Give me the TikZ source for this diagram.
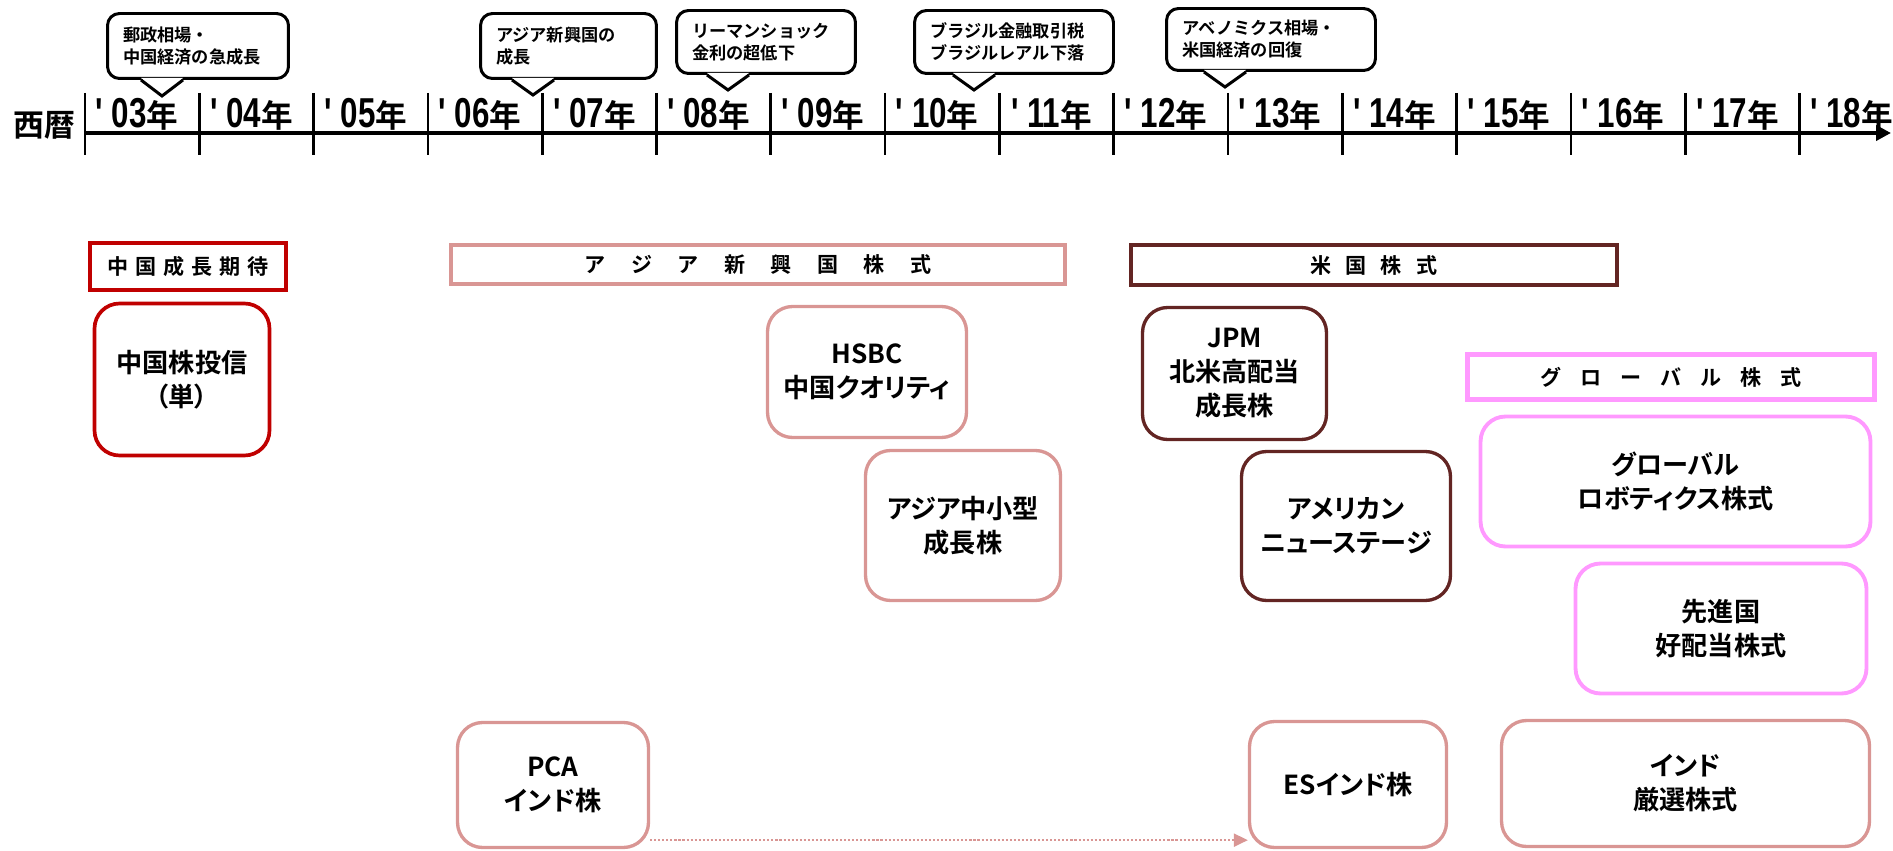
\documentclass[tikz,border=0pt]{standalone}
\usepackage{fontspec}
\usepackage{tikz}
\usetikzlibrary{calc,arrows.meta}
\setmainfont{Noto Sans CJK JP}[BoldFont={Noto Sans CJK JP Bold}]
\newfontfamily\propjp{Noto Sans CJK JP}[BoldFont={Noto Sans CJK JP Bold},RawFeature=+palt]
\newfontfamily\narrowlat{Liberation Sans}[FakeStretch=0.75,Ligatures=TeXOff]

\definecolor{chinared}{HTML}{C00000}
\definecolor{asiarose}{HTML}{D99694}
\definecolor{usbrown}{HTML}{632523}
\definecolor{globalpink}{HTML}{FF99FF}

% letter-spaced banner text
\newcommand\spacedtext[2]{\def\spacedgap{#1}\spacednext#2\relax}
\def\spacednext#1#2{#1\ifx\relax#2\else\hspace{\spacedgap}\expandafter\spacednext\expandafter#2\fi}

\tikzstyle{banner} = [draw, rectangle, line width=2.3pt, inner sep=0pt, font=\fontsize{12}{14}\selectfont\bfseries]
\tikzstyle{fund} = [draw, rounded corners=0.5cm, line width=1.9pt, align=center, inner sep=0pt, font=\propjp\fontsize{14.9}{19.3}\selectfont\bfseries]
\tikzstyle{bubble} = [draw, rounded corners=0.24cm, line width=1.7pt, align=left, inner xsep=0.31cm, inner ysep=0pt, font=\fontsize{9.8}{12.5}\selectfont\bfseries]
\tikzstyle{yearlabel} = [inner sep=0pt, anchor=base]
\tikzstyle{tick} = [line width=1.5pt]
\tikzstyle{axis} = [line width=2.3pt, -{Triangle[length=0.3cm,width=0.3cm]}]
\tikzstyle{movearrow} = [line width=1.2pt, asiarose, dash pattern=on 1.2pt off 1.1pt, -{Triangle[length=0.28cm,width=0.26cm]}]

\begin{document}
\begin{tikzpicture}[x=0.02cm, y=-0.02cm]
    \useasboundingbox (0,0) rectangle (1893,851);

      % Timeline
      \coordinate (axisstart) at (85,133);
      \coordinate (axisend) at (1891,133);
      \draw[axis] (axisstart) -- (axisend);
      \foreach \i in {0,...,15}
        \draw[tick] ({85+114.3*\i},93) -- ({85+114.3*\i},155);

      \node[font=\fontsize{17.6}{20}\selectfont\bfseries] (era) at (44,125) {西暦};
      \foreach \yr [count=\i from 0] in {03,04,05,06,07,08,09,10,11,12,13,14,15,16,17,18}
        \node[yearlabel] (y\yr) at ({80+114.3*(\i+0.5)},128)
          {{\narrowlat\fontsize{23.8}{24}\selectfont\bfseries ' \yr}{\fontsize{18}{20}\selectfont\bfseries 年}};

      % Events
      \node[bubble, text width=3.00cm, minimum height=1.30cm] (b1) at (198,46) {郵政相場・\\中国経済の急成長};
      \node[bubble, text width=2.90cm, minimum height=1.30cm] (b2) at (568.5,46) {アジア新興国の\\成長};
      \node[bubble, text width=2.96cm, minimum height=1.26cm] (b3) at (766,42) {リーマンショック\\金利の超低下};
      \node[bubble, text width=3.36cm, minimum height=1.26cm] (b4) at (1014,42) {ブラジル金融取引税\\ブラジルレアル下落};
      \node[bubble, text width=3.56cm, minimum height=1.24cm] (b5) at (1271,39.5) {アベノミクス相場・\\米国経済の回復};

      \coordinate (t1) at (162,96);
      \coordinate (t2) at (533,95);
      \coordinate (t3) at (728,90);
      \coordinate (t4) at (974,90);
      \coordinate (t5) at (1225,87);
      \foreach \b/\t in {b1/t1,b2/t2,b3/t3,b4/t4,b5/t5}{
        \fill[white] ($(\b.south -| \t)+(-21,-2)$) -- (\t) -- ($(\b.south -| \t)+(21,-2)$) -- cycle;
        \draw[line width=1.7pt, line join=miter] ($(\b.south -| \t)+(-21,0)$) -- (\t) -- ($(\b.south -| \t)+(21,0)$);
      }

      % Themes
      \node[banner, draw=chinared, line width=2.5pt, minimum width=3.92cm, minimum height=0.94cm] (chinabanner) at (188,266.5) {\spacedtext{0.14cm}{中国成長期待}};
      \node[banner, draw=asiarose, minimum width=12.28cm, minimum height=0.78cm] (asiabanner) at (758,264.5) {\spacedtext{0.51cm}{アジア新興国株式}};
      \node[banner, draw=usbrown, minimum width=9.72cm, minimum height=0.80cm] (usbanner) at (1374,265) {\spacedtext{0.28cm}{米国株式}};
      \node[banner, draw=globalpink, line width=2.8pt, minimum width=8.14cm, minimum height=0.90cm] (globalbanner) at (1671,377) {\spacedtext{0.38cm}{グローバル株式}};

      % Funds
      \node[fund, draw=chinared, line width=2.1pt, minimum width=3.50cm, minimum height=3.04cm] (chinafund) at (182,379.5) {中国株投信\\（単）};
      \node[fund, draw=asiarose, minimum width=3.98cm, minimum height=2.62cm] (hsbc) at (867,372) {HSBC\\中国クオリティ};
      \node[fund, draw=asiarose, minimum width=3.90cm, minimum height=3.00cm] (asiasmall) at (963,525.5) {アジア中小型\\成長株};
      \node[fund, draw=usbrown, minimum width=3.68cm, minimum height=2.64cm] (jpm) at (1234.5,373.5) {JPM\\北米高配当\\成長株};
      \node[fund, draw=usbrown, minimum width=4.18cm, minimum height=2.98cm] (american) at (1346,526) {アメリカン\\ニューステージ};
      \node[fund, draw=globalpink, line width=2.2pt, minimum width=7.80cm, minimum height=2.60cm] (robotics) at (1675.5,481.5) {グローバル\\ロボティクス株式};
      \node[fund, draw=globalpink, line width=2.2pt, minimum width=5.82cm, minimum height=2.60cm] (developed) at (1721,628.5) {先進国\\好配当株式};
      \node[fund, draw=asiarose, minimum width=7.36cm, minimum height=2.52cm] (indiaselect) at (1685.5,783.5) {インド\\厳選株式};
      \node[fund, draw=asiarose, minimum width=3.82cm, minimum height=2.50cm] (pca) at (553,785) {PCA\\インド株};
      \node[fund, draw=asiarose, minimum width=3.94cm, minimum height=2.52cm] (esindia) at (1348,784.5) {ESインド株};

      %Edges
      \draw[movearrow] ($(pca.south east)+(0,-9)$) -- ($(esindia.south west)+(0,-9)$);

  \end{tikzpicture}
\end{document}
